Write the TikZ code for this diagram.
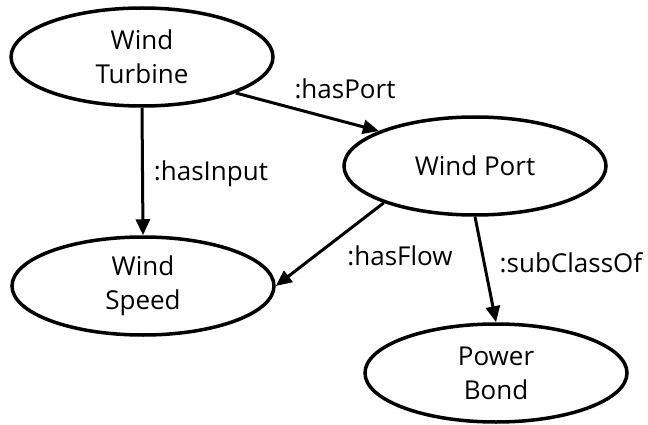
\documentclass[tikz,border=0pt]{standalone}
\usepackage{fontspec}
\setmainfont{Open Sans}
\usetikzlibrary{shapes.geometric,arrows.meta}
\tikzset{
  cls/.style={ellipse, draw, line width=3.5pt, inner sep=0pt,
    minimum width=262pt, minimum height=98pt, align=center,
    font=\fontsize{26}{34}\selectfont},
  rel/.style={line width=3pt, -{Triangle[length=16pt,width=14pt]}},
  lbl/.style={anchor=base, inner sep=0pt, font=\fontsize{26}{34}\selectfont}
}
\begin{document}
\begin{tikzpicture}[x=1pt,y=-1pt]
\useasboundingbox (0,0) rectangle (648,425);
\node[cls] (turbine) at (142,57) {Wind\\Turbine};
\node[cls] (port) at (475,166) {Wind Port};
\node[cls] (speed) at (143,286) {Wind\\Speed};
\node[cls] (bond) at (496,373) {Power\\Bond};
\draw[rel] (turbine.south) -- (speed.north);
\draw[rel] (turbine.339) -- (port.160);
\draw[rel] (port.202) -- (speed.east);
\draw[rel] (port.south) -- (bond.north);
\node[lbl] (l1) at (345,99) {:hasPort};
\node[lbl] (l2) at (211,180) {:hasInput};
\node[lbl] (l3) at (400,265) {:hasFlow};
\node[lbl] (l4) at (571,272) {:subClassOf};
\end{tikzpicture}
\end{document}
